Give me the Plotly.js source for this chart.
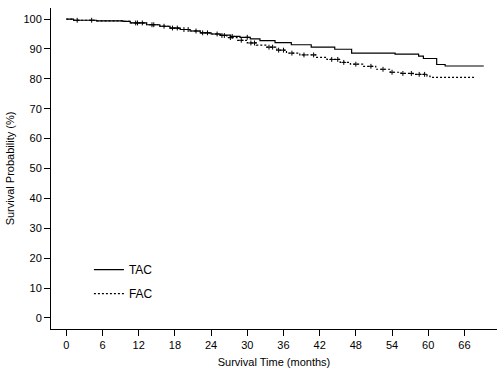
<!DOCTYPE html>
<html>
<head>
<meta charset="utf-8">
<script src="https://cdn.plot.ly/plotly-3.0.1.min.js"></script>
<style>html,body{margin:0;padding:0;background:#fff;}#chart{width:501px;height:373px;}</style>
</head>
<body>
<div id="chart"></div>
<script>
// Kaplan-Meier step estimates (months, survival %)
const tacTime = [0, 1.2, 5.0, 9.4, 10.6, 13.3, 15.5, 17.2, 18.9, 20.5, 22.2, 24.0, 25.5, 27.2, 28.8, 30.5, 32.1, 34.6, 37.3, 40.6, 44.5, 47.3, 54.5, 58.4, 59.2, 61.4, 62.8, 69.2];
const tacSurv = [100, 99.6, 99.4, 99.2, 98.7, 98.1, 97.6, 97.0, 96.5, 96.0, 95.4, 95.0, 94.6, 94.2, 93.9, 93.4, 92.8, 92.1, 91.4, 90.6, 89.9, 88.6, 88.3, 87.6, 86.8, 84.8, 84.3, 84.3];
const facTime = [0, 1.2, 5.0, 9.4, 10.6, 13.3, 15.5, 17.2, 18.9, 20.5, 22.2, 24.0, 25.5, 26.6, 28.3, 30.0, 31.5, 33.2, 34.9, 36.5, 38.7, 41.5, 43.2, 45.4, 47.1, 49.3, 51.3, 53.7, 55.5, 57.5, 59.8, 60.3, 67.8];
const facSurv = [100, 99.6, 99.4, 99.2, 98.7, 98.1, 97.6, 97.0, 96.5, 96.0, 95.4, 95.0, 94.5, 93.8, 92.9, 92.0, 91.3, 90.6, 89.6, 88.6, 88.0, 87.2, 86.5, 85.5, 84.9, 84.2, 83.2, 82.2, 81.8, 81.5, 80.9, 80.5, 80.5];
// censoring marks (months)
const tacCensor = [1.8, 4.2, 11.5, 14.5, 19.5, 21.5, 25.0, 27.5, 30.0];
const facCensor = [11.8, 12.6, 14.2, 16.2, 17.6, 18.4, 20.2, 22.6, 23.4, 25.8, 26.2, 27.2, 29.0, 30.6, 31.2, 33.6, 34.2, 35.2, 36.0, 37.4, 39.4, 41.0, 44.0, 45.0, 46.0, 48.0, 50.5, 52.5, 54.0, 55.8, 57.2, 58.5, 59.4];
const seriesNames = ["TAC", "FAC"];
const xTicks = [0, 6, 12, 18, 24, 30, 36, 42, 48, 54, 60, 66];
const yTicks = [0, 10, 20, 30, 40, 50, 60, 70, 80, 90, 100];

function stepAt(times, surv, t) {
  let v = surv[0];
  for (let i = 0; i < times.length; i++) { if (times[i] <= t) v = surv[i]; else break; }
  return v;
}

const font = {family: "Liberation Sans, Arial, sans-serif", size: 11, color: "#000"};

const traces = [
  {x: tacTime, y: tacSurv, type: "scatter", mode: "lines", line: {shape: "hv", color: "#000", width: 1.2},
   name: seriesNames[0], legendgroup: "a"},
  {x: facTime, y: facSurv, type: "scatter", mode: "lines", line: {shape: "hv", color: "#000", width: 1.2, dash: "2px,2px"},
   name: seriesNames[1], legendgroup: "b"},
  {x: tacCensor, y: tacCensor.map(t => stepAt(tacTime, tacSurv, t)), type: "scatter", mode: "markers",
   marker: {symbol: "cross-thin", size: 3.5, line: {color: "#000", width: 1}}, showlegend: false, hoverinfo: "skip"},
  {x: facCensor, y: facCensor.map(t => stepAt(facTime, facSurv, t)), type: "scatter", mode: "markers",
   marker: {symbol: "cross-thin", size: 3.5, line: {color: "#000", width: 1}}, showlegend: false, hoverinfo: "skip"}
];

const layout = {
  width: 501, height: 373,
  margin: {l: 51, r: 4, t: 8, b: 44},
  paper_bgcolor: "#fff", plot_bgcolor: "#fff",
  font: font,
  showlegend: true,
  legend: {x: 0.085, y: 0.23, xanchor: "left", yanchor: "top", bgcolor: "rgba(0,0,0,0)",
           font: {family: "Liberation Sans, Arial, sans-serif", size: 12, color: "#000"},
           traceorder: "grouped", tracegroupgap: 5, itemwidth: 30},
  xaxis: {range: [-2.54, 71.4], tickvals: xTicks, ticktext: xTicks.map(String), showgrid: false, zeroline: false,
          showline: true, linecolor: "#000", linewidth: 1, ticks: "outside", ticklen: 6, tickcolor: "#000", tickwidth: 1,
          tickfont: font, title: {text: "Survival Time (months)", font: font, standoff: 8}},
  yaxis: {range: [-3.7, 103.7], tickvals: yTicks, ticktext: yTicks.map(String), showgrid: false, zeroline: false,
          showline: true, linecolor: "#000", linewidth: 1, ticks: "outside", ticklen: 6, tickcolor: "#000", tickwidth: 1,
          tickfont: font, title: {text: "Survival Probability (%)", font: font, standoff: 6}}
};

Plotly.newPlot("chart", traces, layout, {displayModeBar: false, staticPlot: true});
</script>
</body>
</html>
